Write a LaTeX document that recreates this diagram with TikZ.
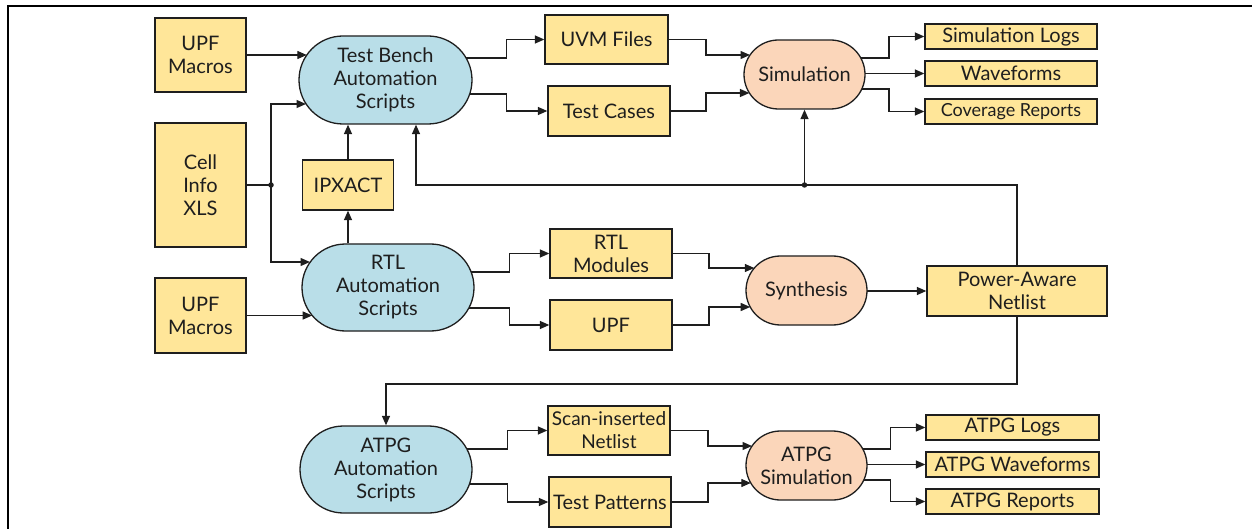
\documentclass[tikz,border=0pt]{standalone}
\usepackage{fontspec}
\setmainfont{Lato}
\usetikzlibrary{arrows.meta,shapes.misc,calc,backgrounds}
\definecolor{boxfill}{HTML}{FFE699}
\definecolor{scriptfill}{HTML}{B9DEE8}
\definecolor{toolfill}{HTML}{FBD6BA}
\definecolor{ink}{HTML}{1E1E1E}
\begin{document}
\begin{tikzpicture}[x=1pt,y=-1pt,
  txt/.style={font=\fontsize{20}{23}\selectfont, text=ink, align=center, inner sep=0pt},
  box/.style={txt, draw=ink, line width=1.3pt, fill=boxfill, rectangle},
  scriptbox/.style={txt, draw=ink, line width=1.3pt, fill=scriptfill, rounded rectangle},
  toolbox/.style={txt, draw=ink, line width=1.3pt, fill=toolfill, rounded rectangle},
  conn/.style={draw=ink, line width=1.3pt, -{Triangle[length=9.5pt,width=8pt]}},
  wire/.style={draw=ink, line width=1.3pt},
  jdot/.style={circle, fill=ink, inner sep=0pt, minimum size=5.5pt},
]
\useasboundingbox (0,0) rectangle (1252,529);
% outer frame (top and left edges)
\draw[line width=2pt, black] (1253,6) -- (7.5,6) -- (7.5,530);

% inputs
\node[box, minimum width=91pt, minimum height=74pt] (upf1) at (200.5,55) {UPF\\Macros};
\node[box, minimum width=91pt, minimum height=124pt] (cell) at (200.5,185) {Cell\\Info\\XLS};
\node[box, minimum width=91pt, minimum height=75pt] (upf2) at (200.5,315.5) {UPF\\Macros};

% automation scripts
\node[scriptbox, minimum width=173pt, minimum height=88pt] (tb) at (385.5,80) {Test Bench\\Automation\\Scripts};
\node[box, minimum width=91pt, minimum height=50pt] (ipx) at (348,185) {IPXACT};
\node[scriptbox, minimum width=172pt, minimum height=87pt] (rtl) at (388,287.5) {RTL\\Automation\\Scripts};
\node[scriptbox, minimum width=172pt, minimum height=87pt] (atpg) at (386,469.5) {ATPG\\Automation\\Scripts};

% generated files
\node[box, minimum width=123pt, minimum height=49pt] (uvm) at (606.5,39.5) {UVM Files};
\node[box, minimum width=122pt, minimum height=50pt] (tc) at (609,111) {Test Cases};
\node[box, minimum width=122pt, minimum height=49pt] (rtlm) at (611,253.5) {RTL\\Modules};
\node[box, minimum width=122pt, minimum height=50pt] (upf3) at (611,325) {UPF};
\node[box, minimum width=122pt, minimum height=49pt, font=\fontsize{19}{23}\selectfont] (scan) at (609,430.5) {Scan-inserted\\Netlist};
\node[box, minimum width=122pt, minimum height=50pt] (tp) at (610,502) {Test Patterns};

% tools
\node[toolbox, minimum width=121pt, minimum height=69pt] (sim) at (804.5,74.5) {Simulation};
\node[toolbox, minimum width=121pt, minimum height=69pt] (syn) at (806.5,290.5) {Synthesis};
\node[toolbox, minimum width=121pt, minimum height=69pt] (asim) at (806.5,465.5) {ATPG\\Simulation};

% outputs
\node[box, minimum width=172pt, minimum height=25pt] (slog) at (1011,36.5) {Simulation Logs};
\node[box, minimum width=172pt, minimum height=25pt] (wave) at (1011,73.5) {Waveforms};
\node[box, minimum width=172pt, minimum height=25pt, font=\fontsize{18}{21}\selectfont] (cov) at (1011,111.5) {Coverage Reports};
\node[box, minimum width=180pt, minimum height=50pt] (pan) at (1017,291) {Power-Aware\\Netlist};
\node[box, minimum width=173pt, minimum height=25pt] (alog) at (1012.5,427.5) {ATPG Logs};
\node[box, minimum width=173pt, minimum height=25pt] (awave) at (1012.5,464.5) {ATPG Waveforms};
\node[box, minimum width=173pt, minimum height=25pt] (arep) at (1012.5,501.5) {ATPG Reports};

% junctions and bend columns
\coordinate (jn) at (271,185);
\coordinate (fbx) at (416,185);
\coordinate (fbdot) at (sim.south |- fbx);
\coordinate (m1) at ($(tb.east)!.47!(uvm.west)$);
\coordinate (m2) at ($(uvm.east)!.5!(sim.west)$);
\coordinate (m3) at ($(sim.east)!.4!(slog.west)$);
\coordinate (m4) at ($(rtl.east)!.47!(rtlm.west)$);
\coordinate (m5) at ($(pan.south)!.62!(atpg.north)$);
\coordinate (m6) at ($(rtlm.east)!.5!(syn.west)$);
\coordinate (m7) at ($(atpg.east)!.47!(scan.west)$);
\coordinate (m8) at ($(scan.east)!.5!(asim.west)$);
\coordinate (m9) at ($(asim.east)!.4!(alog.west)$);

% border points on the rounded boxes
\coordinate (tbin1) at ($(tb.center)+(-78.7,-25)$);
\coordinate (tbin2) at ($(tb.center)+(-79.5,24)$);
\coordinate (rtlin1) at ($(rtl.center)+(-78,-25.5)$);
\coordinate (rtlin2) at ($(rtl.center)+(-75.8,28)$);
\coordinate (simin1) at ($(sim.center)+(-54.5,-19.5)$);
\coordinate (simin2) at ($(sim.center)+(-55.1,18.5)$);
\coordinate (synin1) at ($(syn.center)+(-52.2,-22.5)$);
\coordinate (synin2) at ($(syn.center)+(-56.3,16.5)$);
\coordinate (asimin1) at ($(asim.center)+(-54.5,-19.5)$);
\coordinate (asimin2) at ($(asim.center)+(-55.7,17.5)$);

\begin{scope}[on background layer]
  % inputs to the script generators
  \draw[conn] (upf1.east) -- (tbin1);
  \draw[wire] (cell.east) -- (jn);
  \draw[conn] (jn) |- (tbin2);
  \draw[conn] (jn) |- (rtlin1);
  \draw[conn] (upf2.east) -- (rtlin2);
  \draw[conn] (ipx.south |- rtl.north) -- (ipx.south);
  \draw[conn] (ipx.north) -- (ipx.north |- tb.south);

  % feedback from the netlist
  \draw[conn] (pan.north) |- (fbx) -- (fbx |- tb.south);
  \draw[conn] (fbdot) -- (sim.south);

  % test bench branch
  \draw[conn] ($(tb.center)+(0,-22)$) -| (m1 |- uvm.west) -- (uvm.west);
  \draw[conn] ($(tb.center)+(0,14)$) -| (m1 |- tc.west) -- (tc.west);
  \draw[conn] (uvm.east) -| (m2 |- simin1) -- (simin1);
  \draw[conn] (tc.east) -| (m2 |- simin2) -- (simin2);
  \draw[conn] ($(sim.center)+(0,-16.5)$) -| (m3 |- slog.west) -- (slog.west);
  \draw[conn] (sim.center |- wave.west) -- (wave.west);
  \draw[conn] ($(sim.center)+(0,14.5)$) -| (m3 |- cov.west) -- (cov.west);

  % RTL branch
  \draw[conn] ($(rtl.center)+(0,-15.5)$) -| (m4 |- rtlm.west) -- (rtlm.west);
  \draw[conn] ($(rtl.center)+(0,20.5)$) -| (m4 |- upf3.west) -- (upf3.west);
  \draw[conn] (rtlm.east) -| (m6 |- synin1) -- (synin1);
  \draw[conn] (upf3.east) -| (m6 |- synin2) -- (synin2);
  \draw[conn] (syn.center |- pan.west) -- (pan.west);
  \draw[conn] (pan.south) |- (m5 -| atpg.north) -- (atpg.north);

  % ATPG branch
  \draw[conn] ($(atpg.center)+(0,-20.5)$) -| (m7 |- scan.west) -- (scan.west);
  \draw[conn] ($(atpg.center)+(0,14.5)$) -| (m7 |- tp.west) -- (tp.west);
  \draw[conn] (scan.east) -| (m8 |- asimin1) -- (asimin1);
  \draw[conn] (tp.east) -| (m8 |- asimin2) -- (asimin2);
  \draw[conn] ($(asim.center)+(0,-16.5)$) -| (m9 |- alog.west) -- (alog.west);
  \draw[conn] (asim.center |- awave.west) -- (awave.west);
  \draw[conn] ($(asim.center)+(0,14.5)$) -| (m9 |- arep.west) -- (arep.west);
\end{scope}

\node[jdot] at (jn) {};
\node[jdot] at (fbdot) {};
\end{tikzpicture}
\end{document}
